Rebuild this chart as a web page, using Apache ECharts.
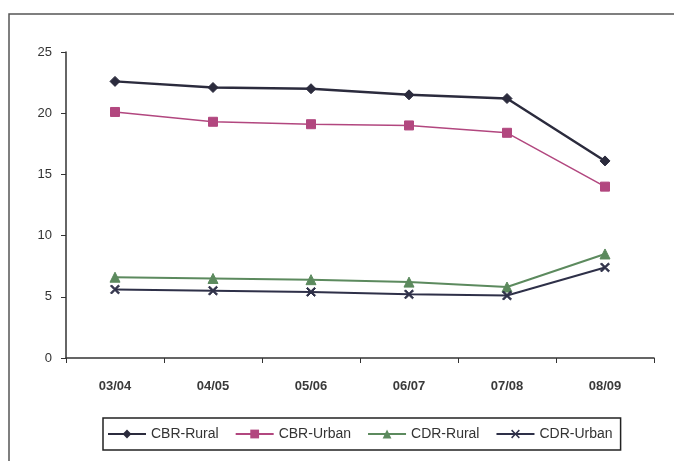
<!DOCTYPE html>
<html>
<head>
<meta charset="utf-8">
<script src="https://cdn.jsdelivr.net/npm/echarts@6/dist/echarts.min.js"></script>
<style>
  html, body { margin: 0; padding: 0; background: #fff; }
  #chart { width: 674px; height: 461px; }
</style>
</head>
<body>
<div id="chart"></div>
<script>
// Crude birth and death rates, rural vs urban, by year
const years = ['03/04', '04/05', '05/06', '06/07', '07/08', '08/09'];
const cbrRural = [22.6, 22.1, 22.0, 21.5, 21.2, 16.1];
const cbrUrban = [20.1, 19.3, 19.1, 19.0, 18.4, 14.0];
const cdrRural = [6.6, 6.5, 6.4, 6.2, 5.8, 8.5];
const cdrUrban = [5.6, 5.5, 5.4, 5.2, 5.1, 7.4];
const yTicks = [0, 5, 10, 15, 20, 25];

const font = 'Liberation Sans, Noto Sans, sans-serif';
const xMark = 'path://M0,1.2L1.2,0L5,3.8L8.8,0L10,1.2L6.2,5L10,8.8L8.8,10L5,6.2L1.2,10L0,8.8L3.8,5Z';

function line(name, data, color, symbol, size, width) {
  return {
    name, type: 'line', data,
    symbol, symbolSize: size,
    lineStyle: { color, width },
    itemStyle: { color, borderColor: color },
    emphasis: { disabled: true },
    animation: false
  };
}

const chart = echarts.init(document.getElementById('chart'));
chart.setOption({
  animation: false,
  backgroundColor: '#fff',
  graphic: [{
    type: 'rect',
    shape: { x: 9, y: 14, width: 680, height: 460 },
    style: { fill: 'none', stroke: '#555', lineWidth: 1.5 },
    silent: true
  }],
  grid: { left: 66, right: 20, top: 52, bottom: 103 },
  xAxis: {
    type: 'category',
    data: years,
    boundaryGap: true,
    axisLine: { lineStyle: { color: '#333', width: 1.5 } },
    axisTick: { show: true, length: 5, lineStyle: { color: '#333' } },
    axisLabel: { color: '#3a3a3a', fontFamily: font, fontSize: 13, fontWeight: 'bold', margin: 22 }
  },
  yAxis: {
    type: 'value',
    min: yTicks[0], max: yTicks[yTicks.length - 1], interval: 5,
    axisLine: { show: true, lineStyle: { color: '#333', width: 1.5 } },
    axisTick: { show: true, length: 5, lineStyle: { color: '#333' } },
    splitLine: { show: false },
    axisLabel: { color: '#333', fontFamily: font, fontSize: 13, margin: 14 }
  },
  legend: {
    left: 103, top: 418,
    padding: [9, 8, 9, 4],
    itemGap: 16,
    itemWidth: 38, itemHeight: 11,
    borderColor: '#222', borderWidth: 1.5,
    textStyle: { color: '#333', fontFamily: font, fontSize: 14 },
    data: ['CBR-Rural', 'CBR-Urban', 'CDR-Rural', 'CDR-Urban']
  },
  series: [
    line('CBR-Rural', cbrRural, '#2b2b3d', 'diamond', 10, 2.5),
    line('CBR-Urban', cbrUrban, '#b2477f', 'rect', 9, 1.5),
    line('CDR-Rural', cdrRural, '#5c8a5e', 'triangle', 10, 2),
    line('CDR-Urban', cdrUrban, '#2e3048', xMark, 9, 2)
  ]
});
</script>
</body>
</html>
